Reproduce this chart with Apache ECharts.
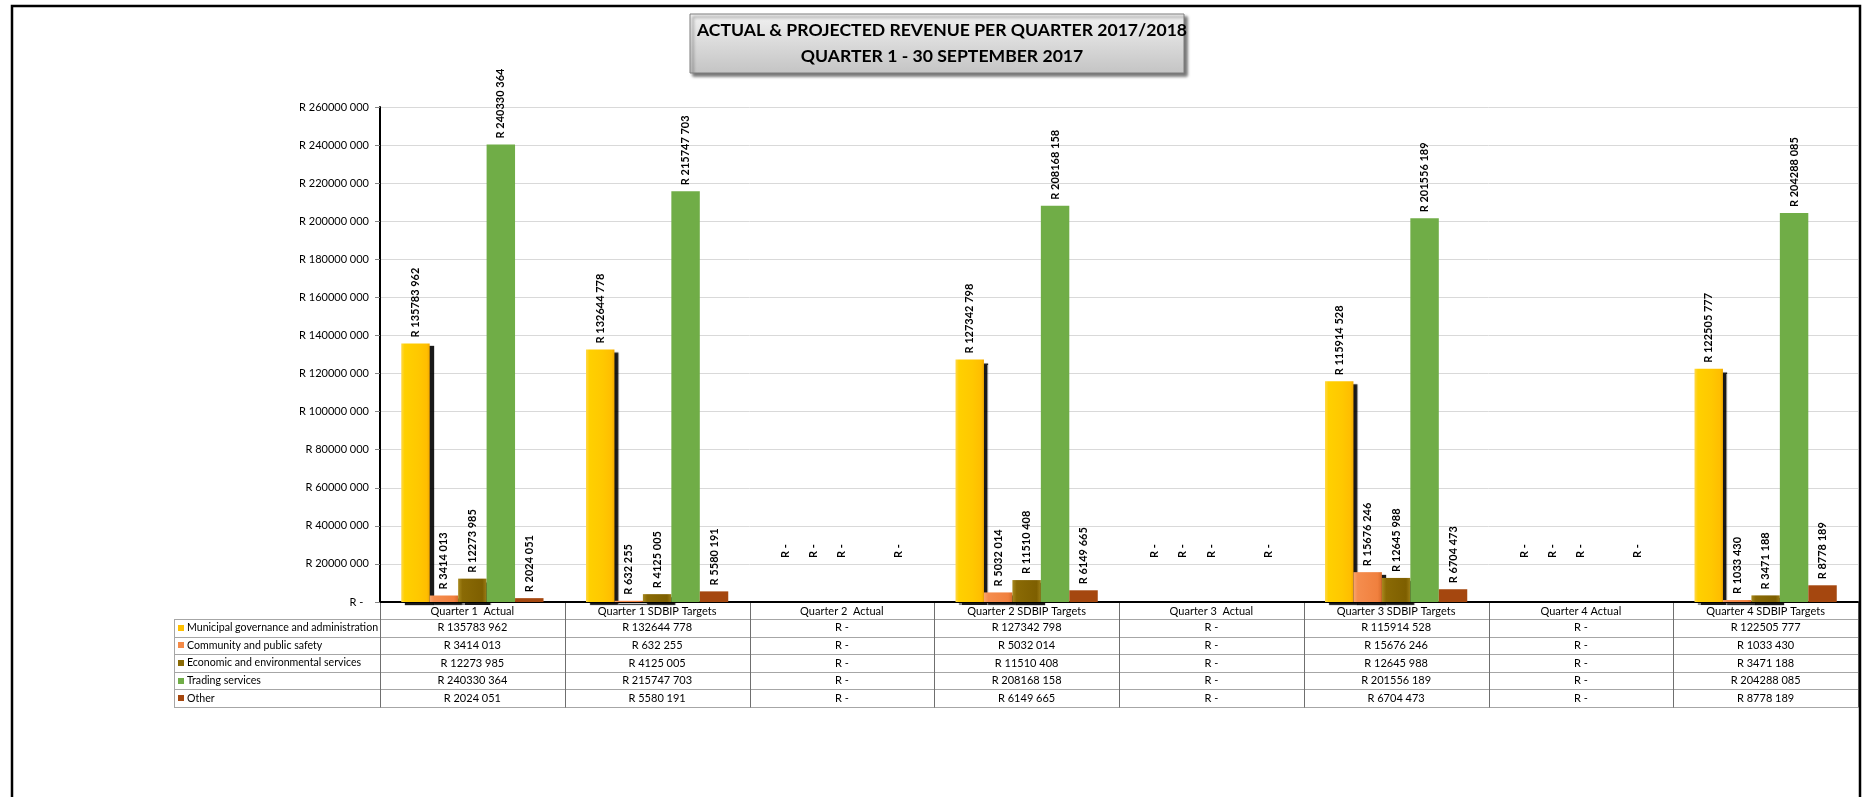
<!DOCTYPE html>
<html>
<head>
<meta charset="utf-8">
<script src="https://cdn.jsdelivr.net/npm/echarts@6/dist/echarts.min.js"></script>
<style>
  html, body { margin: 0; padding: 0; background: #fff; }
  #chart { width: 1863px; height: 797px; }
</style>
</head>
<body>
<div id="chart"></div>
<script>
// Quarter columns shown along the category axis and in the data table header
const categories = [
  'Quarter 1  Actual', 'Quarter 1 SDBIP Targets',
  'Quarter 2  Actual', 'Quarter 2 SDBIP Targets',
  'Quarter 3  Actual', 'Quarter 3 SDBIP Targets',
  'Quarter 4 Actual', 'Quarter 4 SDBIP Targets'
];

const seriesNames = [
  'Municipal governance and administration',
  'Community and public safety',
  'Economic and environmental services',
  'Trading services',
  'Other'
];

// Revenue per function (Rand)
const municipalGovernance = [135783962, 132644778, 0, 127342798, 0, 115914528, 0, 122505777];
const communitySafety     = [3414013, 632255, 0, 5032014, 0, 15676246, 0, 1033430];
const economicEnvironment = [12273985, 4125005, 0, 11510408, 0, 12645988, 0, 3471188];
const tradingServices     = [240330364, 215747703, 0, 208168158, 0, 201556189, 0, 204288085];
const otherRevenue        = [2024051, 5580191, 0, 6149665, 0, 6704473, 0, 8778189];

// Value axis range
const yMin = 0;
const yMax = 260000000;
const yStep = 20000000;

const titleLines = ['ACTUAL & PROJECTED REVENUE PER QUARTER 2017/2018', 'QUARTER 1 - 30 SEPTEMBER 2017'];

const allSeries = [municipalGovernance, communitySafety, economicEnvironment, tradingServices, otherRevenue];

// "R 135783 962" style currency text; zero shows as "R -"
function rand(v) {
  if (!v) return 'R -';
  const th = Math.floor(v / 1000);
  const u = v % 1000;
  return 'R ' + th + ' ' + String(u).padStart(3, '0');
}

const FONT = 'Lato, "Liberation Sans", sans-serif';

function hGrad(stops) {
  return { type: 'linear', x: 0, y: 0, x2: 1, y2: 0,
    colorStops: stops.map(s => ({ offset: s[0], color: s[1] })) };
}

const styles = [
  { fill: hGrad([[0, '#FFD84A'], [0.12, '#FFD000'], [0.6, '#FFC800'], [0.9, '#FFBE00'], [1, '#F2A900']]),
    key: '#FFC000', shadow: true },
  { fill: hGrad([[0, '#F9A66E'], [0.15, '#F58D4E'], [0.85, '#F0803E'], [1, '#D96C2C']]),
    key: '#F58A47', shadow: true },
  { fill: hGrad([[0, '#A8891E'], [0.15, '#8A6A05'], [0.85, '#7E5F00'], [1, '#9C7D16']]),
    key: '#8A6A05', shadow: true },
  { fill: '#70AD47', key: '#70AD47', shadow: false },
  { fill: '#A5470F', key: '#A5470F', shadow: false }
];

const chart = echarts.init(document.getElementById('chart'), null, { renderer: 'canvas' });

const series = allSeries.map((vals, si) => ({
  name: seriesNames[si],
  type: 'bar',
  barGap: '0%',
  barCategoryGap: '23%',
  data: vals.map(v => {
    if (v !== 0) return { value: v };
    // zero entries: the label sits higher; the trading column carries no label
    return { value: v, label: si === 3 ? { show: false } : { distance: 44 } };
  }),
  itemStyle: Object.assign({ color: styles[si].fill },
    styles[si].shadow ? { shadowColor: 'rgba(0,0,0,0.9)', shadowBlur: 1, shadowOffsetX: 4, shadowOffsetY: 3 } : {}),
  label: {
    show: true,
    position: 'top',
    rotate: 90,
    align: 'left',
    verticalAlign: 'middle',
    distance: 6,
    formatter: p => rand(p.value),
    fontFamily: FONT,
    fontWeight: 'bold',
    fontSize: 11,
    color: '#000'
  }
}));

chart.setOption({
  animation: false,
  backgroundColor: '#fff',
  title: {
    text: titleLines.join('\n'),
    left: 937,
    top: 12,
    textAlign: 'center',
    textStyle: { fontFamily: FONT, fontWeight: 'bold', fontSize: 17.6, lineHeight: 26, color: '#000' }
  },
  grid: { left: 380, right: 5, top: 107, bottom: 195 },
  xAxis: {
    type: 'category',
    data: categories,
    axisLine: { lineStyle: { color: '#000', width: 2 } },
    axisTick: { show: false },
    axisLabel: { fontFamily: FONT, fontSize: 11, color: '#000', margin: 4, interval: 0 },
    splitLine: { show: false }
  },
  yAxis: {
    type: 'value',
    min: yMin,
    max: yMax,
    interval: yStep,
    axisLine: { show: true, lineStyle: { color: '#000', width: 2 } },
    axisTick: { show: true, length: 5, lineStyle: { color: '#868686' } },
    axisLabel: {
      fontFamily: FONT, fontSize: 11, color: '#000', margin: 11,
      formatter: v => v === 0 ? 'R -  ' : rand(v)
    },
    splitLine: { lineStyle: { color: '#D9D9D9', width: 1 } }
  },
  series: series
});

// Data table beneath the plot, built from the same arrays
function buildTable() {
  const base = chart.convertToPixel({ yAxisIndex: 0 }, 0);
  const c0 = chart.convertToPixel({ xAxisIndex: 0 }, categories[0]);
  const c1 = chart.convertToPixel({ xAxisIndex: 0 }, categories[1]);
  const colW = c1 - c0;
  const left = c0 - colW / 2;
  const right = left + colW * categories.length;
  const headerH = 17;
  const rowH = 17.6;
  const legendLeft = 174;
  const top = base + headerH;
  const bottom = top + rowH * seriesNames.length;

  const els = [];
  // outer frame
  els.push({ type: 'rect', shape: { x: 12, y: 6, width: 1848, height: 820 },
    style: { fill: null, stroke: '#000', lineWidth: 2.5 }, z: 100, silent: true });
  // title box
  els.push({ type: 'rect', shape: { x: 690, y: 14, width: 494, height: 59 },
    style: {
      fill: { type: 'linear', x: 0, y: 0, x2: 0, y2: 1,
        colorStops: [{ offset: 0, color: '#F2F2F2' }, { offset: 0.5, color: '#DADADA' }, { offset: 1, color: '#C4C4C4' }] },
      stroke: '#7F7F7F', lineWidth: 1,
      shadowColor: 'rgba(0,0,0,0.55)', shadowBlur: 3, shadowOffsetX: 3, shadowOffsetY: 3
    }, z: -1, silent: true });

  // horizontal rules
  for (let i = 0; i <= seriesNames.length; i++) {
    const y = Math.round(top + i * rowH) + 0.5;
    els.push({ type: 'line', shape: { x1: legendLeft, y1: y, x2: right, y2: y },
      style: { stroke: '#A6A6A6', lineWidth: 1 }, silent: true });
  }
  // vertical rules
  for (let j = 0; j <= categories.length; j++) {
    const x = Math.round(left + j * colW) + 0.5;
    els.push({ type: 'line', shape: { x1: x, y1: base, x2: x, y2: Math.round(bottom) + 0.5 },
      style: { stroke: '#6F6F6F', lineWidth: 1 }, silent: true });
  }
  els.push({ type: 'line', shape: { x1: legendLeft + 0.5, y1: Math.round(top) + 0.5, x2: legendLeft + 0.5, y2: Math.round(bottom) + 0.5 },
    style: { stroke: '#A6A6A6', lineWidth: 1 }, silent: true });

  // legend keys and names
  seriesNames.forEach((name, si) => {
    const cy = top + rowH * si + rowH / 2;
    els.push({ type: 'rect', shape: { x: 178, y: Math.round(cy - 3), width: 6, height: 6 },
      style: { fill: styles[si].key }, silent: true });
    els.push({ type: 'text', x: 187, y: cy,
      style: { text: name, fontFamily: FONT, fontSize: 10.6, fill: '#000', verticalAlign: 'middle', align: 'left' }, silent: true });
    // values
    allSeries[si].forEach((v, ci) => {
      els.push({ type: 'text', x: left + colW * ci + colW / 2, y: cy,
        style: { text: rand(v), fontFamily: FONT, fontSize: 11, fill: '#000', verticalAlign: 'middle', align: 'center' }, silent: true });
    });
  });

  chart.setOption({ graphic: { elements: els } });
}

buildTable();
</script>
</body>
</html>
